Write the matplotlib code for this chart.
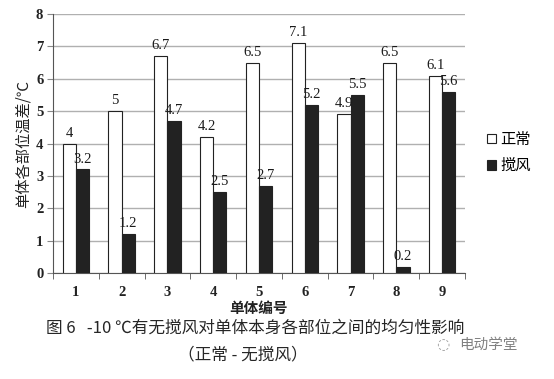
import matplotlib
matplotlib.use("Agg")
import matplotlib.pyplot as plt
import numpy as np

categories = ["1", "2", "3", "4", "5", "6", "7", "8", "9"]
normal = [4, 5, 6.7, 4.2, 6.5, 7.1, 4.9, 6.5, 6.1]
stir = [3.2, 1.2, 4.7, 2.5, 2.7, 5.2, 5.5, 0.2, 5.6]
normal_labels = ["4", "5", "6.7", "4.2", "6.5", "7.1", "4.9", "6.5", "6.1"]
stir_labels = ["3.2", "1.2", "4.7", "2.5", "2.7", "5.2", "5.5", "0.2", "5.6"]
series_names = ["正常", "搅风"]
yticks = [0, 1, 2, 3, 4, 5, 6, 7, 8]

cjk = ["Noto Sans CJK SC", "DejaVu Sans"]
serif = ["Liberation Serif", "DejaVu Serif"]

fig = plt.figure(figsize=(5.54, 3.79), dpi=100)
ax = fig.add_axes([53/554, 1-273/379, (465-53)/554, (273-14)/379])

x = np.arange(len(categories))
w = 0.29
b1 = ax.bar(x - w/2, normal, w, color="white", edgecolor="#222222", linewidth=0.8, zorder=3)
b2 = ax.bar(x + w/2, stir, w, color="#222222", edgecolor="#222222", linewidth=0.8, zorder=3)

for xi, v, s in zip(x, normal, normal_labels):
    ax.text(xi - w/2, v + 0.12, s, ha="center", va="bottom", family=serif, fontsize=10.5, color="#1a1a1a")
for xi, v, s in zip(x, stir, stir_labels):
    ax.text(xi + w/2, v + 0.12, s, ha="center", va="bottom", family=serif, fontsize=10.5, color="#1a1a1a")

ax.set_xlim(-0.5, len(categories) - 0.5)
ax.set_ylim(0, 8)
ax.set_yticks(yticks)
ax.set_yticklabels([str(t) for t in yticks], family=serif, fontsize=10.5, fontweight="bold", color="#222222")
ax.set_xticks(x)
ax.set_xticklabels(categories, family=serif, fontsize=10.5, fontweight="bold", color="#222222")
ax.set_xticks(np.arange(len(categories) + 1) - 0.5, minor=True)
ax.tick_params(axis="x", which="major", length=0, pad=9)
ax.tick_params(axis="x", which="minor", length=4, color="#555555")
ax.tick_params(axis="y", length=4, color="#888888", pad=3)

ax.yaxis.grid(True, color="#b0b0b0", linewidth=1.0, zorder=0)
ax.set_axisbelow(True)
for sp in ["top", "right"]:
    ax.spines[sp].set_visible(False)
ax.spines["left"].set_color("#555555")
ax.spines["bottom"].set_color("#555555")

ax.set_ylabel("单体各部位温差/℃", family=cjk, fontsize=11, color="#222222", labelpad=3)
ax.set_xlabel("单体编号", family=cjk, fontsize=10.5, fontweight="bold", color="#222222", labelpad=1)

leg = ax.legend([b1, b2], series_names, loc="center left", bbox_to_anchor=(1.02, 0.465),
                frameon=False, prop={"family": cjk, "size": 11},
                handlelength=0.6, handleheight=0.6, handletextpad=0.25, labelspacing=0.6)

fig.text(255/554, 1-328/379, "图 6   -10 ℃有无搅风对单体本身各部位之间的均匀性影响",
         ha="center", va="center", family=cjk, fontsize=12, fontweight="medium", color="#262626")
fig.text(243/554, 1-355/379, "（正常 - 无搅风）", ha="center", va="center", family=cjk,
         fontsize=12, fontweight="medium", color="#262626")
fig.text(459/554, 1-345/379, "电动学堂", ha="left", va="center", family=cjk,
         fontsize=10.5, color="#808080")
fig.text(443/554, 1-345/379, "◌", ha="center", va="center", family=["DejaVu Sans"],
         fontsize=11, color="#9a9a9a")

fig.savefig("out.png", dpi=100)
